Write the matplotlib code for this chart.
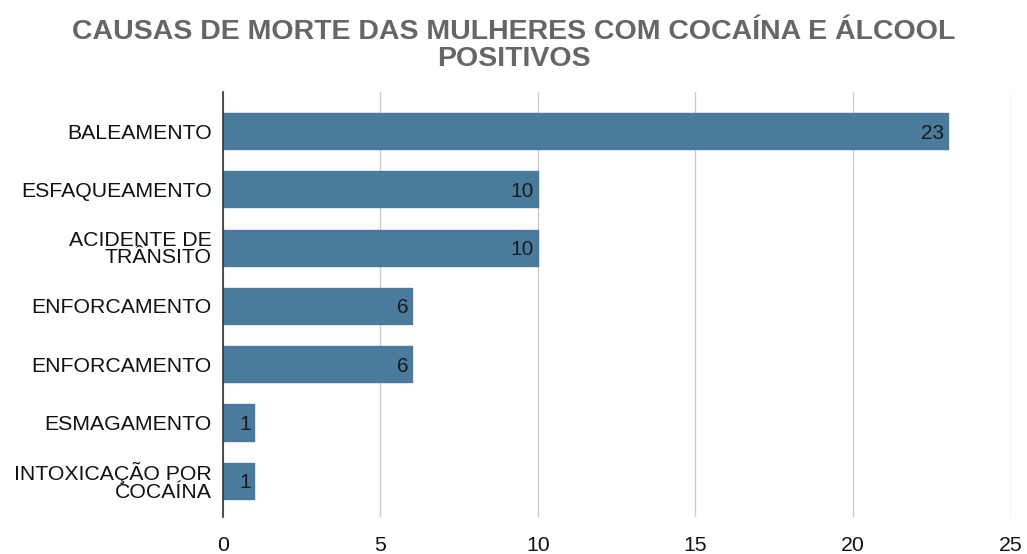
import matplotlib.pyplot as plt

# Data
causas = ['BALEAMENTO', 'ESFAQUEAMENTO', 'ACIDENTE DE\nTRÂNSITO', 'ENFORCAMENTO',
          'ENFORCAMENTO', 'ESMAGAMENTO', 'INTOXICAÇÃO POR\nCOCAÍNA']
casos = [23, 10, 10, 6, 6, 1, 1]
x_ticks = [0, 5, 10, 15, 20, 25]

plt.rcParams['font.family'] = ['Liberation Sans', 'DejaVu Sans']

bar_color = '#4a7b9d'

fig = plt.figure(figsize=(10.27, 5.54), dpi=100)
ax = fig.add_axes([0.217, 0.067, 0.767, 0.767])

pos = list(range(len(causas)))
ax.barh(pos, casos, height=0.62, color=bar_color, edgecolor=bar_color,
        linewidth=1.0, joinstyle='round', zorder=3)

for p, v in zip(pos, casos):
    ax.text(v - 0.12, p, str(v), ha='right', va='center_baseline', fontsize=15,
            color='#1a1a1a', zorder=4)

ax.set_yticks(pos)
ax.set_yticklabels(causas, fontsize=15.3, color='#111111', linespacing=0.9)
ax.set_ylim(6.62, -0.67)
ax.set_xlim(0, 25)
ax.set_xticks(x_ticks)
ax.set_xticklabels([str(t) for t in x_ticks], fontsize=15.3, color='#111111')
ax.tick_params(axis='y', length=0, pad=8)
ax.tick_params(axis='x', length=0, pad=14)

ax.grid(axis='x', color='#cccccc', linewidth=1, zorder=0)
for s in ['top', 'right', 'bottom']:
    ax.spines[s].set_visible(False)
ax.spines['left'].set_color('#333333')
ax.spines['left'].set_linewidth(1.2)
ax.spines['left'].set_zorder(5)

fig.text(0.5, 0.918, 'CAUSAS DE MORTE DAS MULHERES COM COCAÍNA E ÁLCOOL\nPOSITIVOS',
         ha='center', va='center', fontsize=20.5, fontweight='bold',
         color='#666666', linespacing=1.05)

fig.savefig('out.png', dpi=100)
